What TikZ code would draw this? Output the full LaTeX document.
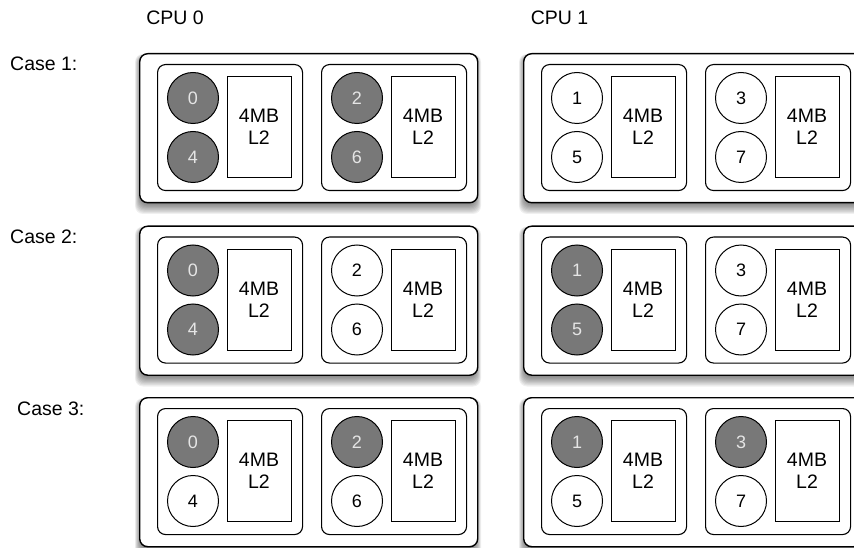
\documentclass[tikz,border=0pt]{standalone}
\usepackage{fontspec}
\setmainfont{Liberation Sans}
\begin{document}
\begin{tikzpicture}[x=1pt,y=-1pt,
  lbl/.style={inner sep=0pt, font=\fontsize{19.5}{22}\selectfont},
  cpubox/.style={draw, line width=1.4pt, rounded corners=8pt, fill=white,
    minimum width=338pt, minimum height=149pt, anchor=north west, inner sep=0pt},
  corebox/.style={draw, line width=1.1pt, rounded corners=8pt,
    minimum width=145pt, minimum height=126pt, anchor=north west, inner sep=0pt},
  cachebox/.style={draw, line width=1pt,
    minimum width=64pt, minimum height=101pt, anchor=north west, inner sep=0pt},
  thread/.style={circle, draw, line width=1pt, minimum size=51pt, inner sep=0pt,
    font=\fontsize{18}{20}\selectfont},
  busy/.style={thread, fill=black!53, text=black!10},
  idle/.style={thread, fill=white, text=black},
]
\useasboundingbox (0,0) rectangle (854,548);
\clip (0,0) rectangle (854,548);

% column headings and row labels
\node[lbl] (cpu0title) at (175,18) {CPU 0};
\node[lbl] (cpu1title) at (559.5,18) {CPU 1};
\node[lbl, anchor=west] (case1) at (10,63.5) {Case 1:};
\node[lbl, anchor=west] (case2) at (10,237) {Case 2:};
\node[lbl, anchor=west] (case3) at (17,409) {Case 3:};

% packages: soft shadow, outer box, two cores each with an L2 cache
\foreach \r/\Y in {1/53,2/225.5,3/397}
  \foreach \p/\X in {0/139,1/523} {
    \foreach \i in {1,...,10}
      \fill[black, opacity=0.06, rounded corners=8pt]
        (\X+2-\i*0.6, \Y+4-\i*0.3) rectangle (\X+336+\i*0.6, \Y+150+\i*1.1);
    \node[cpubox] (pkg\p-\r) at (\X,\Y) {};
    \foreach \k in {0,1} {
      \node[corebox] (die\p\k-\r) at (\X+18+164*\k, \Y+11) {};
      \node[cachebox] (ltwo\p\k-\r) at (\X+88+164*\k, \Y+23) {};
      \node[lbl] (size\p\k-\r) at (\X+120+164*\k, \Y+63) {4MB};
      \node[lbl] (name\p\k-\r) at (\X+120+164*\k, \Y+85) {L2};
    }
  }

% hardware threads: row / package / core / slot / number / state
\foreach \r/\Y in {1/53,2/225.5,3/397}
  \foreach \p/\X in {0/139,1/523}
    \coordinate (org\p-\r) at (\X,\Y);

\foreach \r/\p/\k/\s/\n/\st in {
    1/0/0/0/0/busy, 1/0/0/1/4/busy, 1/0/1/0/2/busy, 1/0/1/1/6/busy,
    1/1/0/0/1/idle, 1/1/0/1/5/idle, 1/1/1/0/3/idle, 1/1/1/1/7/idle,
    2/0/0/0/0/busy, 2/0/0/1/4/busy, 2/0/1/0/2/idle, 2/0/1/1/6/idle,
    2/1/0/0/1/busy, 2/1/0/1/5/busy, 2/1/1/0/3/idle, 2/1/1/1/7/idle,
    3/0/0/0/0/busy, 3/0/0/1/4/idle, 3/0/1/0/2/busy, 3/0/1/1/6/idle,
    3/1/0/0/1/busy, 3/1/0/1/5/idle, 3/1/1/0/3/busy, 3/1/1/1/7/idle}
  \node[\st] (t\n-\r) at ([shift={(54+164*\k, 45+59*\s)}]org\p-\r) {\n};
\end{tikzpicture}
\end{document}
